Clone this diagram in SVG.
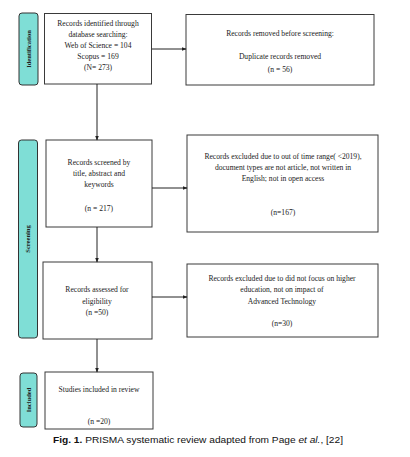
<svg xmlns="http://www.w3.org/2000/svg" width="410" height="457" viewBox="0 0 410 457">
<style>
.box{fill:#fff;stroke:#3a3a3a;stroke-width:1}
.bar{fill:#7fded6;stroke:#333;stroke-width:1}
.t{font-family:"Liberation Serif","DejaVu Serif",serif;font-size:7.6px;fill:#222;text-anchor:middle}
.s{font-family:"Liberation Serif","DejaVu Serif",serif;font-size:6.5px;font-weight:bold;fill:#222;text-anchor:middle}
.ln{stroke:#222;stroke-width:1;fill:none}
.cap{font-family:"Liberation Sans",Arial,sans-serif;font-size:9.3px;fill:#111}
</style>
<defs>
<marker id="ah" markerWidth="5" markerHeight="4" refX="4.5" refY="2" orient="auto" markerUnits="userSpaceOnUse">
<path d="M0,0 L5,2 L0,4 Z" fill="#222"/>
</marker>
</defs>
<rect width="410" height="457" fill="#fff"/>
<g id="bar-identification">
<rect class="bar" x="19" y="13" width="19" height="72" rx="3"/>
<text class="s" transform="translate(30.5,49) rotate(-90)">Identification</text>
</g>
<g id="bar-screening">
<rect class="bar" x="18.5" y="140" width="19" height="198" rx="3"/>
<text class="s" transform="translate(30,239) rotate(-90)">Screening</text>
</g>
<g id="bar-included">
<rect class="bar" x="20" y="373" width="17" height="54" rx="3"/>
<text class="s" transform="translate(31,400) rotate(-90)">Included</text>
</g>
<g id="n1">
<rect class="box" x="44.5" y="13.5" width="107" height="70.5"/>
<text class="t" x="98" y="26">Records identified through</text>
<text class="t" x="98" y="37">database searching:</text>
<text class="t" x="98" y="48">Web of Science = 104</text>
<text class="t" x="98" y="59">Scopus = 169</text>
<text class="t" x="98" y="70">(N= 273)</text>
</g>
<g id="n2">
<rect class="box" x="186" y="14.5" width="188" height="70.5"/>
<text class="t" x="280" y="36">Records removed before screening:</text>
<text class="t" x="280" y="59">Duplicate records removed</text>
<text class="t" x="280" y="72">(n = 56)</text>
</g>
<g id="n3">
<rect class="box" x="46" y="140" width="106" height="87"/>
<text class="t" x="99" y="165">Records screened by</text>
<text class="t" x="99" y="176">title, abstract and</text>
<text class="t" x="99" y="187">keywords</text>
<text class="t" x="99" y="211">(n = 217)</text>
</g>
<g id="n4">
<rect class="box" x="187" y="135" width="191" height="97"/>
<text class="t" x="283" y="159">Records excluded due to out of time range( &lt;2019),</text>
<text class="t" x="283" y="170">document types are not article, not written in</text>
<text class="t" x="283" y="181">English; not in open access</text>
<text class="t" x="283" y="215">(n=167)</text>
</g>
<g id="n5">
<rect class="box" x="43" y="262" width="109" height="77"/>
<text class="t" x="97" y="292">Records assessed for</text>
<text class="t" x="97" y="304">eligibility</text>
<text class="t" x="97" y="315">(n =50)</text>
</g>
<g id="n6">
<rect class="box" x="187" y="264" width="191" height="73"/>
<text class="t" x="282" y="281">Records excluded due to did not focus on higher</text>
<text class="t" x="282" y="292">education, not on impact of</text>
<text class="t" x="282" y="304">Advanced Technology</text>
<text class="t" x="282" y="326">(n=30)</text>
</g>
<g id="n7">
<rect class="box" x="45" y="372" width="108" height="57"/>
<text class="t" x="99" y="392">Studies included in review</text>
<text class="t" x="99" y="424">(n =20)</text>
</g>
<g id="connectors">
<line class="ln" x1="152" y1="49" x2="186" y2="49" marker-end="url(#ah)"/>
<line class="ln" x1="97" y1="84" x2="97" y2="140" marker-end="url(#ah)"/>
<line class="ln" x1="152" y1="188" x2="187" y2="188" marker-end="url(#ah)"/>
<line class="ln" x1="97" y1="227" x2="97" y2="262" marker-end="url(#ah)"/>
<line class="ln" x1="152" y1="297" x2="187" y2="297" marker-end="url(#ah)"/>
<line class="ln" x1="97" y1="339" x2="97" y2="372" marker-end="url(#ah)"/>
</g>
<text class="cap" x="53" y="443" textLength="290" lengthAdjust="spacingAndGlyphs"><tspan font-weight="bold">Fig. 1.</tspan> PRISMA systematic review adapted from Page <tspan font-style="italic">et al.</tspan>, [22]</text>
</svg>
